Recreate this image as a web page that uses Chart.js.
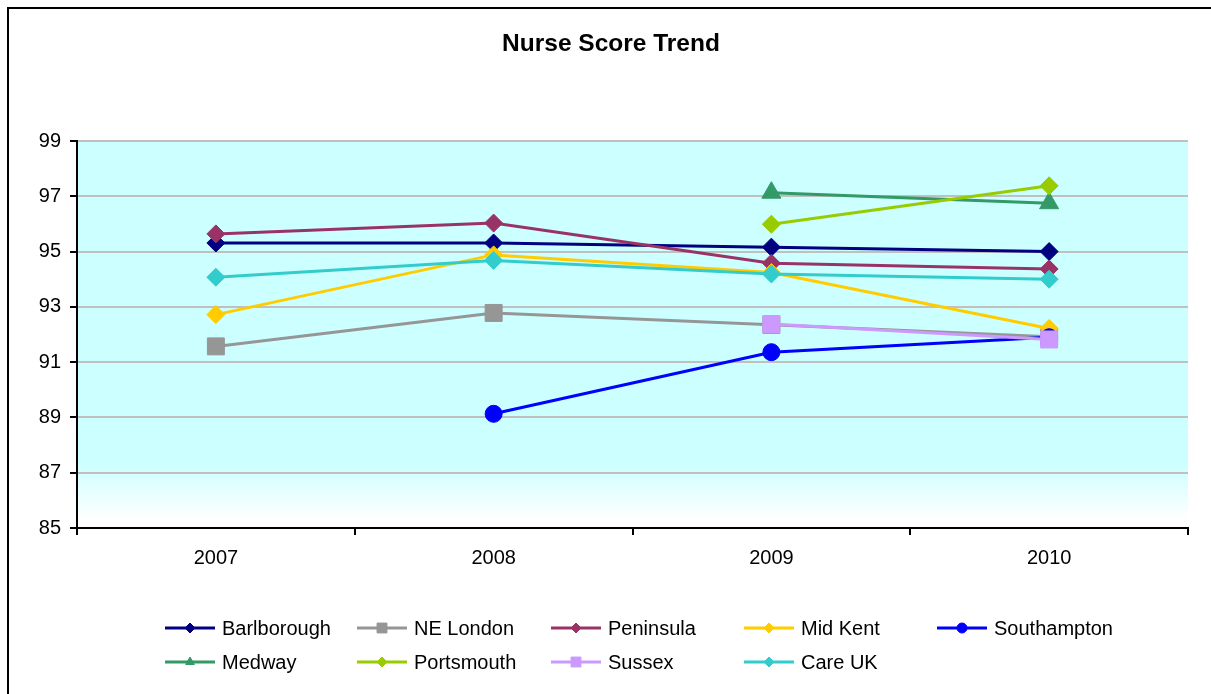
<!DOCTYPE html>
<html>
<head>
<meta charset="utf-8">
<title>Nurse Score Trend</title>
<script src="https://cdn.jsdelivr.net/npm/chart.js@4/dist/chart.umd.min.js"></script>
<style>
    html, body { margin: 0; padding: 0; background: #fff; overflow: hidden; }
    #chart { display: block; }
</style>
</head>
<body>
<canvas id="chart" width="1211" height="694"></canvas>
<script>
// Nurse score trend, one line per site
const years = ['2007', '2008', '2009', '2010'];

const barlborough = [95.31, 95.31, 95.16, 95.0];
const neLondon    = [91.57, 92.78, 92.35, 91.92];
const peninsula   = [95.64, 96.03, 94.58, 94.37];
const midKent     = [92.72, 94.88, 94.24, 92.22];
const southampton = [null, 89.13, 91.36, 91.9];
const medway      = [null, null, 97.13, 96.75];
const portsmouth  = [null, null, 95.99, 97.38];
const sussex      = [null, null, 92.38, 91.82];
const careUK      = [94.07, 94.68, 94.19, 94.0];

const yTicks = { min: 85, max: 99, step: 2 };

const TITLE = 'Nurse Score Trend';
const FONT = '"Liberation Sans", Arial, sans-serif';

// legend columns / rows (Excel puts the items on a fixed grid)
const LEGEND_COLS = [165, 357, 551, 744, 937];
const LEGEND_ROWS = [628, 662];

function series(label, data, color, pointStyle, radius) {
    return {
        label: label,
        data: data,
        borderColor: color,
        backgroundColor: color,
        pointBackgroundColor: color,
        pointBorderColor: color,
        pointStyle: pointStyle,
        pointRadius: radius,
        pointBorderWidth: 1,
        borderWidth: 3,
        tension: 0,
        spanGaps: false
    };
}

const datasets = [
    series('Barlborough', barlborough, '#000080', 'rectRot', 9),
    series('NE London', neLondon, '#969696', 'rect', 12),
    series('Peninsula', peninsula, '#993366', 'rectRot', 9),
    series('Mid Kent', midKent, '#FFCC00', 'rectRot', 9),
    series('Southampton', southampton, '#0000FF', 'circle', 8.5),
    series('Medway', medway, '#339966', 'triangle', 11),
    series('Portsmouth', portsmouth, '#99CC00', 'rectRot', 9),
    series('Sussex', sussex, '#CC99FF', 'rect', 12),
    series('Care UK', careUK, '#33CCCC', 'rectRot', 9)
];
// later series are painted on top, like Excel
datasets.forEach((ds, i) => { ds.order = datasets.length - i; });

const backdropPlugin = {
    id: 'backdrop',
    beforeDraw(chart) {
        const ctx = chart.ctx;
        const a = chart.chartArea;
        ctx.save();
        // outer chart border
        ctx.strokeStyle = '#000';
        ctx.lineWidth = 2;
        ctx.beginPath();
        ctx.moveTo(8, chart.height + 5);
        ctx.lineTo(8, 8);
        ctx.lineTo(chart.width + 5, 8);
        ctx.stroke();
        // title, centred on the whole chart box
        ctx.fillStyle = '#000';
        ctx.font = 'bold 24.5px ' + FONT;
        ctx.textAlign = 'center';
        ctx.textBaseline = 'middle';
        ctx.fillText(TITLE, 611, 44);
        // plot area fill, cyan fading to white at the bottom
        const g = ctx.createLinearGradient(0, a.top, 0, a.bottom);
        g.addColorStop(0, '#CCFFFF');
        g.addColorStop(0.83, '#CCFFFF');
        g.addColorStop(0.98, '#FFFFFF');
        g.addColorStop(1, '#FFFFFF');
        ctx.fillStyle = g;
        ctx.fillRect(a.left, a.top, a.right - a.left, a.bottom - a.top);
        ctx.restore();
    }
};

const columnLegendPlugin = {
    id: 'columnLegend',
    afterDraw(chart) {
        const ctx = chart.ctx;
        chart.data.datasets.forEach((ds, i) => {
            const x = LEGEND_COLS[i % 5];
            const y = LEGEND_ROWS[Math.floor(i / 5)];
            ctx.save();
            ctx.strokeStyle = ds.borderColor;
            ctx.lineWidth = 3;
            ctx.beginPath();
            ctx.moveTo(x, y);
            ctx.lineTo(x + 50, y);
            ctx.stroke();
            ctx.fillStyle = ds.pointBackgroundColor;
            ctx.strokeStyle = ds.pointBorderColor;
            ctx.lineWidth = 1;
            Chart.helpers.drawPoint(ctx, {
                pointStyle: ds.pointStyle,
                radius: ds.pointStyle === 'rect' ? 7 : 5,
                rotation: 0,
                borderWidth: 1
            }, x + 25, y);
            ctx.fillStyle = '#000';
            ctx.font = '20px ' + FONT;
            ctx.textAlign = 'left';
            ctx.textBaseline = 'middle';
            ctx.fillText(ds.label, x + 57, y + 1);
            ctx.restore();
        });
    }
};

new Chart(document.getElementById('chart'), {
    type: 'line',
    data: { labels: years, datasets: datasets },
    plugins: [backdropPlugin, columnLegendPlugin],
    options: {
        responsive: false,
        animation: false,
        devicePixelRatio: 1,
        events: [],
        layout: { padding: { left: 0, right: 23, top: 141, bottom: 0 } },
        plugins: {
            legend: { display: false },
            tooltip: { enabled: false },
            title: { display: false }
        },
        scales: {
            x: {
                offset: true,
                grid: {
                    display: true,
                    offset: true,
                    drawOnChartArea: false,
                    drawTicks: true,
                    tickLength: 7,
                    color: '#000',
                    lineWidth: 2
                },
                border: { display: true, color: '#000', width: 2 },
                ticks: {
                    color: '#000',
                    padding: 11,
                    maxRotation: 0,
                    font: { family: FONT, size: 20 }
                },
                afterFit(scale) { scale.height = 166; }
            },
            y: {
                min: yTicks.min,
                max: yTicks.max,
                grid: {
                    color: '#C0C0C0',
                    lineWidth: 2,
                    tickColor: '#000',
                    tickLength: 7
                },
                border: { display: true, color: '#000', width: 2 },
                ticks: {
                    stepSize: yTicks.step,
                    color: '#000',
                    padding: 9,
                    font: { family: FONT, size: 20 }
                },
                afterFit(scale) { scale.width = 77; }
            }
        }
    }
});
</script>
</body>
</html>
